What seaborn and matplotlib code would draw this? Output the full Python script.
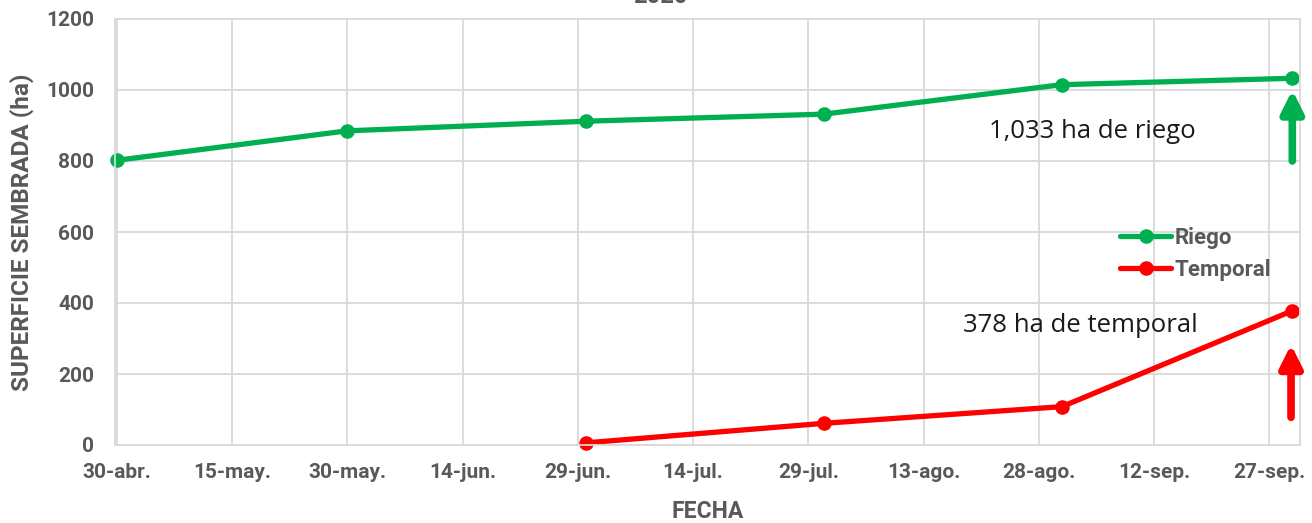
import matplotlib
matplotlib.use("Agg")
import matplotlib.pyplot as plt
import seaborn as sns
import pandas as pd
from matplotlib.lines import Line2D

# ---- data ----
riego_dates = ["2020-04-30", "2020-05-30", "2020-06-30", "2020-07-31", "2020-08-31", "2020-09-30"]
riego_values = [802, 885, 912, 932, 1015, 1033]
temporal_dates = ["2020-06-30", "2020-07-31", "2020-08-31", "2020-09-30"]
temporal_values = [6, 61, 108, 378]
tick_labels = ["30-abr.", "15-may.", "30-may.", "14-jun.", "29-jun.", "14-jul.",
               "29-jul.", "13-ago.", "28-ago.", "12-sep.", "27-sep."]
y_ticks = [0, 200, 400, 600, 800, 1000, 1200]
title = "2020"
ylabel = "SUPERFICIE SEMBRADA (ha)"
xlabel = "FECHA"
note_riego = "1,033 ha de riego"
note_temporal = "378 ha de temporal"

GREEN = "#00B050"
RED = "#FF0000"
GRID = "#D9D9D9"
TXT = "#595959"

sns.set_theme(style="whitegrid")
plt.rcParams["font.family"] = ["Roboto", "DejaVu Sans"]

df = pd.concat([
    pd.DataFrame({"fecha": pd.to_datetime(riego_dates), "valor": riego_values, "serie": "Riego"}),
    pd.DataFrame({"fecha": pd.to_datetime(temporal_dates), "valor": temporal_values, "serie": "Temporal"}),
])

fig = plt.figure(figsize=(13.12, 5.23), dpi=100)
ax = fig.add_axes([115/1312, 1-445/523, (1300-115)/1312, (445-19)/523])

sns.lineplot(data=df, x="fecha", y="valor", hue="serie", palette={"Riego": GREEN, "Temporal": RED},
             marker="o", markersize=10.5, markeredgewidth=0, linewidth=3.8, ax=ax, legend=False,
             clip_on=False)

start = pd.Timestamp("2020-04-30")
tick_dates = [start + pd.Timedelta(days=15*i) for i in range(len(tick_labels))]
ax.set_xticks(tick_dates)
ax.set_xticklabels(tick_labels)
ax.set_xlim(pd.Timestamp("2020-04-29 18:00"), pd.Timestamp("2020-10-01"))
ax.set_ylim(0, 1200)
ax.set_yticks(y_ticks)

ax.grid(True, color=GRID, linewidth=1.3)
for s in ax.spines.values():
    s.set_color(GRID)
    s.set_linewidth(1.3)
ax.tick_params(axis="both", length=0, colors=TXT, labelsize=15)
ax.tick_params(axis="x", pad=13)
ax.tick_params(axis="y", pad=15)
for lab in ax.get_xticklabels() + ax.get_yticklabels():
    lab.set_fontweight("bold")

ax.set_xlabel(xlabel, fontsize=16.5, fontweight="bold", color=TXT, labelpad=13)
ax.set_ylabel(ylabel, fontsize=17.5, fontweight="bold", color=TXT, labelpad=9)

fig.text(660/1312, 1-3/523, title, ha="center", va="baseline", fontsize=17, fontweight="bold", color=TXT)

# legend
handles = [Line2D([], [], color=GREEN, marker="o", markersize=10.5, markeredgewidth=0, linewidth=3.8),
           Line2D([], [], color=RED, marker="o", markersize=10.5, markeredgewidth=0, linewidth=3.8)]
leg = ax.legend(handles, ["Riego", "Temporal"], loc="center left",
                bbox_to_anchor=(1120/1312, 1-254/523), bbox_transform=fig.transFigure,
                frameon=False, fontsize=16, handlelength=2.3, handletextpad=0.15, labelspacing=0.45,
                borderaxespad=0, borderpad=0)
for t in leg.get_texts():
    t.set_color(TXT)
    t.set_fontweight("bold")

# arrows
x_end = pd.Timestamp("2020-09-30")
arrow_style = "-|>,head_width=0.55,head_length=1.1"
ax.annotate("", xy=(x_end, 1000), xytext=(x_end, 800),
            arrowprops=dict(arrowstyle=arrow_style, color=GREEN, lw=5.5, shrinkA=0, shrinkB=0))
ax.annotate("", xy=(pd.Timestamp("2020-09-29 20:00"), 283), xytext=(pd.Timestamp("2020-09-29 20:00"), 78),
            arrowprops=dict(arrowstyle=arrow_style, color=RED, lw=5.5, shrinkA=0, shrinkB=0))

# notes
fig.text(1092/1312, 1-132/523, note_riego, ha="center", va="center", fontsize=18.5,
         color="#1a1a1a", family=["Open Sans", "DejaVu Sans"])
fig.text(1080/1312, 1-326/523, note_temporal, ha="center", va="center", fontsize=18.5,
         color="#1a1a1a", family=["Open Sans", "DejaVu Sans"])

fig.savefig("out.png", dpi=100)
